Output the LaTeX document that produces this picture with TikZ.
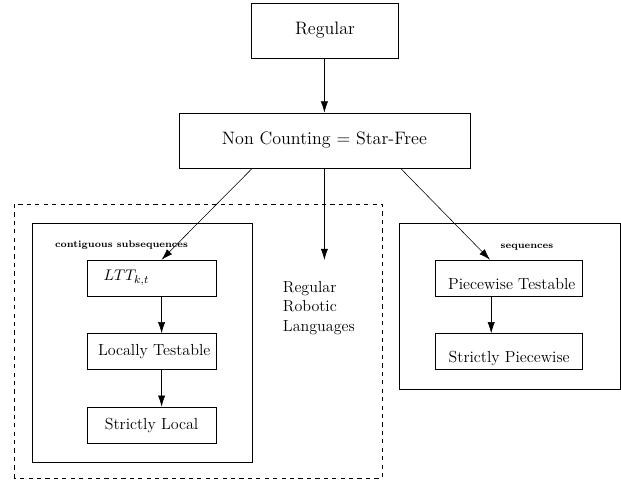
\documentclass[tikz,border=0pt]{standalone}
\usetikzlibrary{arrows.meta}

\tikzset{
  langbox/.style={draw, rectangle, minimum width=3.225cm, minimum height=0.9cm, inner sep=2pt, font=\fontsize{11.4}{14}\selectfont},
  lowtext/.style={text height=8pt, text depth=0pt},
  topbox/.style={draw, rectangle, minimum height=1.375cm, font=\fontsize{12.8}{15}\selectfont},
  grplabel/.style={font=\fontsize{6.8}{8}\selectfont\bfseries},
  link/.style={-{Latex[length=2.8mm,width=1.8mm]}}
}

\begin{document}
\begin{tikzpicture}
\useasboundingbox (0,0) rectangle (15.525,12);

% Top of the hierarchy
\node[topbox, minimum width=3.675cm] (reg) at (8.125,11.24) {Regular};
\node[topbox, minimum width=7.275cm] (nc) at (8.11,8.49) {Non Counting = Star-Free};
\draw[link] (reg.south -| nc.south) -- (nc.north);

% Robotic languages region
\draw[dashed] (0.35,0.05) rectangle (9.55,6.9);
\coordinate (rrlarrow) at (8.11,5.5);
\node[align=left, anchor=west, font=\fontsize{11.4}{13.9}\selectfont] (rrl) at (6.95,4.3) {Regular\\Robotic\\Languages};

% Contiguous subsequences
\draw (0.8,0.45) rectangle (6.3,6.425);
\node[grplabel] (contig) at (3.04,5.875) {contiguous subsequences};
\node[langbox, text width=2.9cm, align=left] (ltt) at (3.79,5.05) {\hspace{0.25cm}$LTT_{k,t}$};
\node[langbox] (lt) at (3.79,3.21) {\ Locally Testable};
\node[langbox] (sl) at (3.79,1.375) {Strictly Local};
\draw[link] ([xshift=0.25cm]ltt.south) -- ([xshift=0.25cm]lt.north);
\draw[link] ([xshift=0.25cm]lt.south) -- ([xshift=0.25cm]sl.north);

% Sequences
\draw (9.975,2.275) rectangle (15.5,6.425);
\node[grplabel] (seq) at (13.175,5.825) {sequences};
\node[langbox, lowtext, minimum width=3.675cm] (pt) at (12.73,5.05) {\raisebox{-4pt}{\ Piecewise Testable}};
\node[langbox, lowtext, minimum width=3.675cm] (sp) at (12.73,3.21) {\raisebox{-4pt}{Strictly Piecewise}};
\draw[link] ([xshift=-0.45cm]pt.south) -- ([xshift=-0.45cm]sp.north);

% Edges from non counting
\draw[link] ([xshift=-1.8cm]nc.south) -- ([xshift=0.25cm]ltt.north);
\draw[link] (nc.south) -- (rrlarrow);
\draw[link] ([xshift=1.9cm]nc.south) -- ([xshift=-0.48cm]pt.north);

\end{tikzpicture}
\end{document}
